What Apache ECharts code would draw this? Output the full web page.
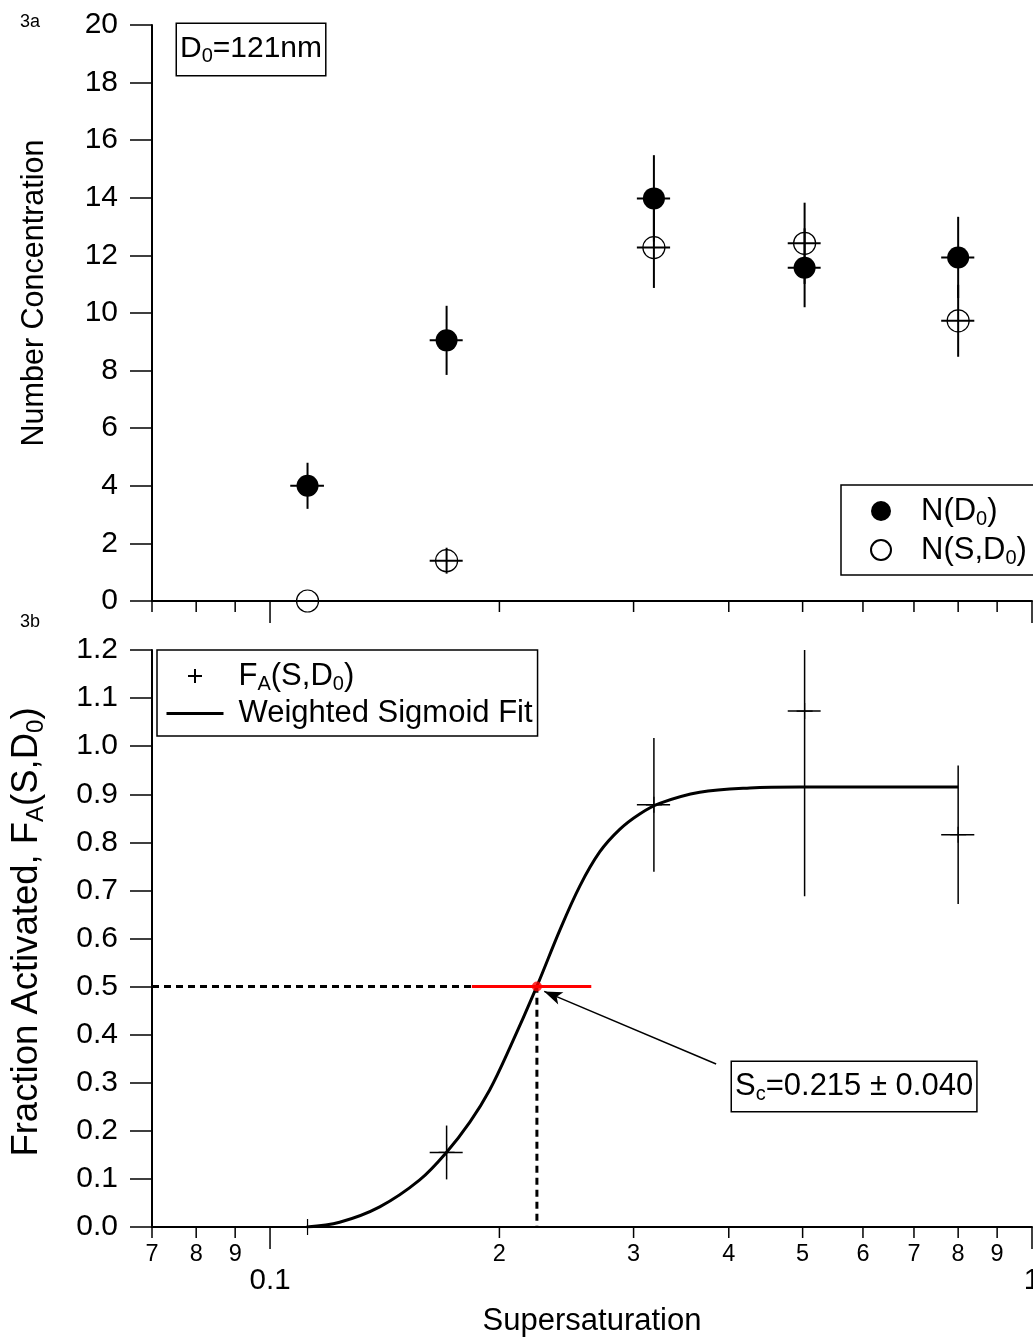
<!DOCTYPE html>
<html><head><meta charset="utf-8">
<script src="https://cdn.jsdelivr.net/npm/echarts@6/dist/echarts.min.js"></script>
<style>html,body{margin:0;padding:0;background:#fff}#c{width:1033px;height:1339px}</style>
</head><body><div id="c"></div>
<script>
// ---------- data ----------
const supersat = [0.112, 0.1705, 0.319, 0.503, 0.80];
const supersatErr = [0.0057, 0.0085, 0.016, 0.025, 0.040];
const nD0 = [4.0, 9.05, 13.98, 11.57, 11.93];
const nD0Err = [0.8, 1.2, 1.5, 1.37, 1.41];
const nSD0 = [0.0, 1.4, 12.27, 12.42, 9.73];
const nSD0Err = [0.0, 0.45, 1.4, 1.41, 1.25];
const fracAct = [0.0, 0.155, 0.878, 1.073, 0.816];
const fracErr = [0.0, 0.056, 0.139, 0.385, 0.144];
const fitS = [0.1117, 0.1234, 0.1393, 0.1572, 0.1706, 0.1829, 0.1942, 0.2063, 0.2239, 0.2400, 0.2550, 0.2708, 0.2877, 0.3056, 0.3246, 0.3664, 0.4262, 0.4956, 0.80];
const fitFA = [0.0, 0.010, 0.042, 0.098, 0.156, 0.218, 0.285, 0.372, 0.5, 0.617, 0.709, 0.780, 0.827, 0.859, 0.881, 0.904, 0.913, 0.915, 0.915];
const scCenter = 0.224, scErr = 0.040, scFA = 0.5;
const guideS = [0.07, 0.224, 0.224];
const guideFA = [0.5, 0.5, 0.0];
const arrowFrom = [0.385, 0.339], arrowTo = [0.229, 0.49];
const xTickVals = [0.07, 0.08, 0.09, 0.1, 0.2, 0.3, 0.4, 0.5, 0.6, 0.7, 0.8, 0.9, 1.0];
const xTickLabels = ['7', '8', '9', '0.1', '2', '3', '4', '5', '6', '7', '8', '9', '1'];
const xTickMajor = [0, 0, 0, 1, 0, 0, 0, 0, 0, 0, 0, 0, 1];

// ---------- helpers ----------
const FF = '"Liberation Sans", Arial, Helvetica, sans-serif';
function rich(F) {
  const sf = Math.round(F * 0.65);
  return {
    n: { fontSize: F, lineHeight: F + 4, color: '#000', fontFamily: FF },
    s: { fontSize: sf, lineHeight: F + 4, padding: [Math.round(F * 0.5), 0, 0, 0], color: '#000', fontFamily: FF }
  };
}
function zip5(xs, ys, xe, lo, hi) { return xs.map((x, i) => [x, ys[i], xe ? xe[i] : 0, lo[i], hi[i]]); }
function errRender(color, width) {
  return function (params, api) {
    const x = api.value(0), y = api.value(1), xe = api.value(2), lo = api.value(3), hi = api.value(4);
    const c = api.coord([x, y]);
    const ch = [];
    if (xe > 0) {
      const l = api.coord([x - xe, y]), r = api.coord([x + xe, y]);
      ch.push({ type: 'line', shape: { x1: l[0], y1: c[1], x2: r[0], y2: c[1] }, style: { stroke: color, lineWidth: width } });
    }
    if (lo > 0 || hi > 0) {
      const t = api.coord([x, y + hi]), b = api.coord([x, y - lo]);
      ch.push({ type: 'line', shape: { x1: c[0], y1: t[1], x2: c[0], y2: b[1] }, style: { stroke: color, lineWidth: width } });
    }
    return { type: 'group', children: ch };
  };
}
function tickRender(withLabels) {
  return function (params, api) {
    const i = api.value(2);
    const p = api.coord([api.value(0), 0]);
    const major = xTickMajor[i] === 1;
    const len = major ? 22 : 11;
    const ch = [{ type: 'line', shape: { x1: p[0], y1: p[1], x2: p[0], y2: p[1] + len }, style: { stroke: '#000', lineWidth: 1.5 } }];
    if (withLabels) {
      ch.push({
        type: 'text', x: p[0], y: major ? p[1] + 54 : p[1] + 28,
        style: { text: xTickLabels[i], fontSize: major ? 29.5 : 23.5, fontFamily: FF, fill: '#000',
          textAlign: 'center', textVerticalAlign: 'middle', align: 'center', verticalAlign: 'middle' }
      });
    }
    return { type: 'group', children: ch };
  };
}
const tickData = xTickVals.map((v, i) => [v, 0, i]);
const legendNames = { 'N(D0)': '{n|N(D}{s|0}{n|)}', 'N(S,D0)': '{n|N(S,D}{s|0}{n|)}', 'FA(S,D0)': '{n|F}{s|A}{n|(S,D}{s|0}{n|)}', 'Weighted Sigmoid Fit': '{n|Weighted Sigmoid Fit}' };

const chart = echarts.init(document.getElementById('c'), null, { renderer: 'canvas' });
const axisLineStyle = { color: '#000', width: 2 };
const option = {
  animation: false,
  backgroundColor: '#fff',
  textStyle: { fontFamily: FF },
  grid: [
    { left: 152, top: 25, width: 880, height: 576 },
    { left: 152, top: 650, width: 880, height: 577 }
  ],
  xAxis: [
    { type: 'log', gridIndex: 0, min: 0.07, max: 1.0, axisLine: { show: true, lineStyle: axisLineStyle, onZero: false },
      axisTick: { show: false }, axisLabel: { show: false }, splitLine: { show: false } },
    { type: 'log', gridIndex: 1, min: 0.07, max: 1.0, axisLine: { show: true, lineStyle: axisLineStyle, onZero: false },
      axisTick: { show: false }, axisLabel: { show: false }, splitLine: { show: false },
      name: 'Supersaturation', nameLocation: 'middle', nameGap: 79,
      nameTextStyle: { fontSize: 31, color: '#000', fontFamily: FF } }
  ],
  yAxis: [
    { type: 'value', gridIndex: 0, min: 0, max: 20, interval: 2,
      axisLine: { show: true, lineStyle: axisLineStyle }, axisTick: { show: true, length: 22, lineStyle: { color: '#000', width: 1.5 } },
      axisLabel: { fontSize: 30, color: '#000', margin: 34, fontFamily: FF }, splitLine: { show: false } },
    { type: 'value', gridIndex: 1, min: 0, max: 1.2, interval: 0.1,
      axisLine: { show: true, lineStyle: axisLineStyle }, axisTick: { show: true, length: 22, lineStyle: { color: '#000', width: 1.5 } },
      axisLabel: { fontSize: 30, color: '#000', margin: 34, fontFamily: FF, formatter: v => v.toFixed(1) }, splitLine: { show: false } }
  ],
  legend: [
    { data: ['N(D0)', 'N(S,D0)'], left: 841, top: 485, orient: 'vertical', itemWidth: 20, itemHeight: 20, itemGap: 3,
      padding: [8, 10, 7, 29], borderColor: '#000', borderWidth: 1.5, backgroundColor: '#fff',
      formatter: n => legendNames[n], textStyle: { padding: [0, 0, 0, 25], rich: rich(31) }, selectedMode: false },
    { data: ['FA(S,D0)', { name: 'Weighted Sigmoid Fit', itemStyle: { color: 'rgba(0,0,0,0)', borderColor: 'rgba(0,0,0,0)', borderWidth: 0 },
        lineStyle: { color: '#000', width: 3 } }],
      left: 157, top: 650, orient: 'vertical', itemWidth: 57, itemHeight: 14, itemGap: 4,
      padding: [8, 5, 7, 8], borderColor: '#000', borderWidth: 1.5, backgroundColor: '#fff',
      formatter: n => legendNames[n], textStyle: { padding: [0, 0, 0, 10], rich: rich(31) }, selectedMode: false }
  ],
  graphic: [
    { type: 'text', x: 20, y: 22, style: { text: '3a', fontSize: 18, fontFamily: FF, fill: '#000', align: 'left', verticalAlign: 'middle' } },
    { type: 'text', x: 20, y: 622, style: { text: '3b', fontSize: 18, fontFamily: FF, fill: '#000', align: 'left', verticalAlign: 'middle' } },
    { type: 'text', x: 177, y: 24, z: 10, style: { text: '{n|D}{s|0}{n|=121nm}', rich: rich(30), align: 'left', verticalAlign: 'top',
      borderColor: '#000', borderWidth: 1.5, padding: [8, 3, 9, 3], backgroundColor: '#fff' } },
    { type: 'text', x: 732, y: 1062, z: 10, style: { text: '{n|S}{s|c}{n|=0.215 ± 0.040}', rich: rich(31), align: 'left', verticalAlign: 'top',
      borderColor: '#000', borderWidth: 1.5, padding: [7, 3, 7, 3], backgroundColor: '#fff' } },
    { type: 'text', x: 35, y: 293, rotation: Math.PI / 2, style: { text: 'Number Concentration', fontSize: 30.5, fontFamily: FF, fill: '#000', align: 'center', verticalAlign: 'middle' } },
    { type: 'text', x: 27, y: 932, rotation: Math.PI / 2, style: { text: '{n|Fraction Activated, F}{s|A}{n|(S,D}{s|0}{n|)}', rich: rich(36.5), align: 'center', verticalAlign: 'middle' } }
  ],
  series: [
    // top panel
    { type: 'custom', name: 'ticksTop', xAxisIndex: 0, yAxisIndex: 0, data: tickData, encode: { x: 0, y: 1 }, renderItem: tickRender(false), silent: true, z: 1 },
    { type: 'custom', name: 'errND0', xAxisIndex: 0, yAxisIndex: 0, data: zip5(supersat, nD0, supersatErr, nD0Err, nD0Err), encode: { x: 0, y: 1 }, renderItem: errRender('#000', 2), silent: true, z: 2 },
    { type: 'custom', name: 'errNSD0', xAxisIndex: 0, yAxisIndex: 0, data: zip5(supersat, nSD0, supersatErr, nSD0Err, nSD0Err), encode: { x: 0, y: 1 }, renderItem: errRender('#000', 2), silent: true, z: 4 },
    { type: 'scatter', name: 'N(D0)', xAxisIndex: 0, yAxisIndex: 0, data: supersat.map((s, i) => [s, nD0[i]]), symbol: 'circle', symbolSize: 22,
      itemStyle: { color: '#000', opacity: 1 }, z: 3 },
    { type: 'scatter', name: 'N(S,D0)', xAxisIndex: 0, yAxisIndex: 0, data: supersat.map((s, i) => [s, nSD0[i]]), symbol: 'circle', symbolSize: 22,
      itemStyle: { color: 'rgba(0,0,0,0)', borderColor: '#000', borderWidth: 1.2, opacity: 1 }, z: 3 },
    // bottom panel
    { type: 'custom', name: 'ticksBottom', xAxisIndex: 1, yAxisIndex: 1, data: tickData, encode: { x: 0, y: 1 }, renderItem: tickRender(true), silent: true, z: 1 },
    { type: 'line', name: 'guides', xAxisIndex: 1, yAxisIndex: 1, data: guideS.map((s, i) => [s, guideFA[i]]), symbol: 'none',
      lineStyle: { color: '#000', width: 3, type: [7, 5] }, z: 2, silent: true,
      markLine: { silent: true, symbol: ['none', 'arrow'], symbolSize: [10, 18], label: { show: false },
        lineStyle: { color: '#000', width: 1.5, type: 'solid' },
        data: [[{ coord: arrowFrom }, { coord: arrowTo }]] } },
    { type: 'line', name: 'Weighted Sigmoid Fit', xAxisIndex: 1, yAxisIndex: 1, data: fitS.map((s, i) => [s, fitFA[i]]), symbol: 'none', smooth: 0.35,
      lineStyle: { color: '#000', width: 3 }, itemStyle: { color: 'rgba(0,0,0,0)' }, z: 3 },
    { type: 'custom', name: 'errFA', xAxisIndex: 1, yAxisIndex: 1, data: zip5(supersat, fracAct, supersatErr, fracErr, fracErr), encode: { x: 0, y: 1 }, renderItem: errRender('#000', 1.5), clip: true, silent: true, z: 4 },
    { type: 'scatter', name: 'FA(S,D0)', xAxisIndex: 1, yAxisIndex: 1, data: supersat.map((s, i) => [s, fracAct[i]]), symbol: 'path://M0,-10L0,10M-10,0L10,0', symbolSize: 16,
      itemStyle: { color: 'rgba(0,0,0,0)', borderColor: '#000', borderWidth: 1.2, opacity: 1 }, z: 4 },
    { type: 'custom', name: 'errSc', xAxisIndex: 1, yAxisIndex: 1, data: [[scCenter, scFA, scErr, 0, 0]], encode: { x: 0, y: 1 }, renderItem: errRender('#ff0000', 3), silent: true, z: 5 },
    { type: 'scatter', name: 'Sc', xAxisIndex: 1, yAxisIndex: 1, data: [[scCenter, scFA]], symbol: 'circle', symbolSize: 10, itemStyle: { color: '#ff0000' }, z: 6 }
  ]
};
chart.setOption(option);
</script></body></html>
